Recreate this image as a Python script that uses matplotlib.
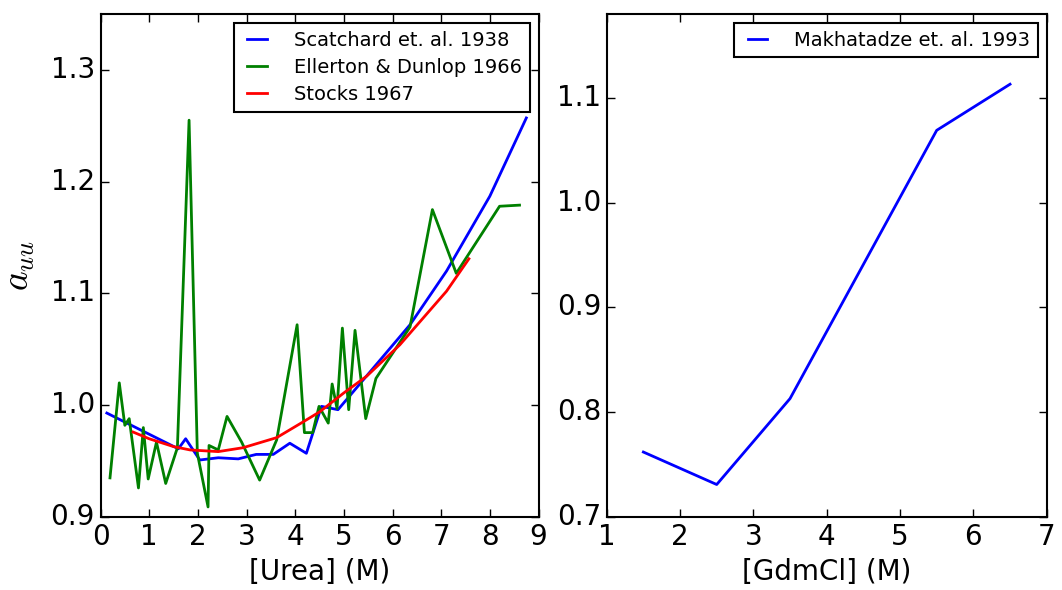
import matplotlib
matplotlib.use("Agg")
import matplotlib.pyplot as plt

# Left panel: urea
scatchard_x = [0.13, 1.6, 1.75, 2.04, 2.42, 2.83, 3.2, 3.55, 3.89, 4.23, 4.54, 4.88, 6.36, 7.11, 8.0, 8.75]
scatchard_y = [0.993, 0.961, 0.970, 0.951, 0.953, 0.952, 0.956, 0.956, 0.966, 0.957, 0.999, 0.996, 1.072, 1.120, 1.187, 1.257]

ellerton_x = [0.195, 0.386, 0.50, 0.59, 0.78, 0.88, 0.98, 1.15, 1.34, 1.58, 1.82, 1.99, 2.21, 2.23, 2.42, 2.60,
              2.90, 3.27, 3.62, 4.04, 4.19, 4.36, 4.49, 4.68, 4.76, 4.86, 4.97, 5.10, 5.23, 5.45, 5.66, 6.36,
              6.82, 7.31, 8.20, 8.61]
ellerton_y = [0.935, 1.020, 0.982, 0.988, 0.926, 0.980, 0.934, 0.967, 0.930, 0.962, 1.255, 0.957, 0.909, 0.964,
              0.960, 0.990, 0.967, 0.933, 0.969, 1.072, 0.9755, 0.9755, 0.999, 0.984, 1.019, 0.997, 1.069, 0.996,
              1.067, 0.988, 1.024, 1.070, 1.175, 1.118, 1.178, 1.179]

stocks_x = [0.67, 1.0, 1.5, 1.84, 2.42, 2.93, 3.62, 4.16, 4.5, 5.0, 5.47, 6.15, 7.11, 7.57]
stocks_y = [0.976, 0.970, 0.963, 0.960, 0.9585, 0.962, 0.971, 0.985, 0.994, 1.011, 1.026, 1.054, 1.102, 1.131]

# Right panel: GdmCl
makh_x = [1.5, 2.5, 3.5, 4.5, 5.5, 6.5]
makh_y = [0.762, 0.731, 0.813, 0.941, 1.069, 1.113]

plt.style.use("classic")
plt.rcParams["font.family"] = ["DejaVu Sans"]

fig = plt.figure(figsize=(10.62, 5.90), dpi=100)
W, H = 1062.0, 590.0
ax1 = fig.add_axes([100.5 / W, 1 - 517 / H, (538.5 - 100.5) / W, (517 - 14) / H])
ax2 = fig.add_axes([606.7 / W, 1 - 517 / H, (1046.7 - 606.7) / W, (517 - 14) / H])

lw = 2.0
leg_kw = dict(loc="upper right", fontsize=14, frameon=True, fancybox=False,
              handlelength=1.6, handletextpad=1.1, borderpad=0.4, labelspacing=0.42,
              borderaxespad=0.45)

ax1.plot(scatchard_x, scatchard_y, color="blue", lw=lw, label="Scatchard et. al. 1938")
ax1.plot(ellerton_x, ellerton_y, color="green", lw=lw, label="Ellerton & Dunlop 1966")
ax1.plot(stocks_x, stocks_y, color="red", lw=lw, label="Stocks 1967")
ax1.set_xlim(0, 9)
ax1.set_ylim(0.9, 1.35)
ax1.set_xticks(range(0, 10))
ax1.set_yticks([0.9, 1.0, 1.1, 1.2, 1.3])
ax1.set_xlabel("[Urea] (M)", fontsize=20)
ax1.set_ylabel(r"$a_{uu}$", fontsize=27, labelpad=10)
lg1 = ax1.legend(**leg_kw)
lg1.get_frame().set_linewidth(1.5)

ax2.plot(makh_x, makh_y, color="blue", lw=lw, label="Makhatadze et. al. 1993")
ax2.set_xlim(1, 7)
ax2.set_ylim(0.7, 1.18)
ax2.set_xticks(range(1, 8))
ax2.set_yticks([0.7, 0.8, 0.9, 1.0, 1.1])
ax2.set_xlabel("[GdmCl] (M)", fontsize=20)
lg2 = ax2.legend(**leg_kw)
lg2.get_frame().set_linewidth(1.5)

for ax in (ax1, ax2):
    ax.tick_params(labelsize=20, direction="in", top=True, right=True, length=6, width=1)
    for s in ax.spines.values():
        s.set_linewidth(1.5)

fig.patch.set_facecolor("white")
fig.savefig("out.png", dpi=100, facecolor="white")
